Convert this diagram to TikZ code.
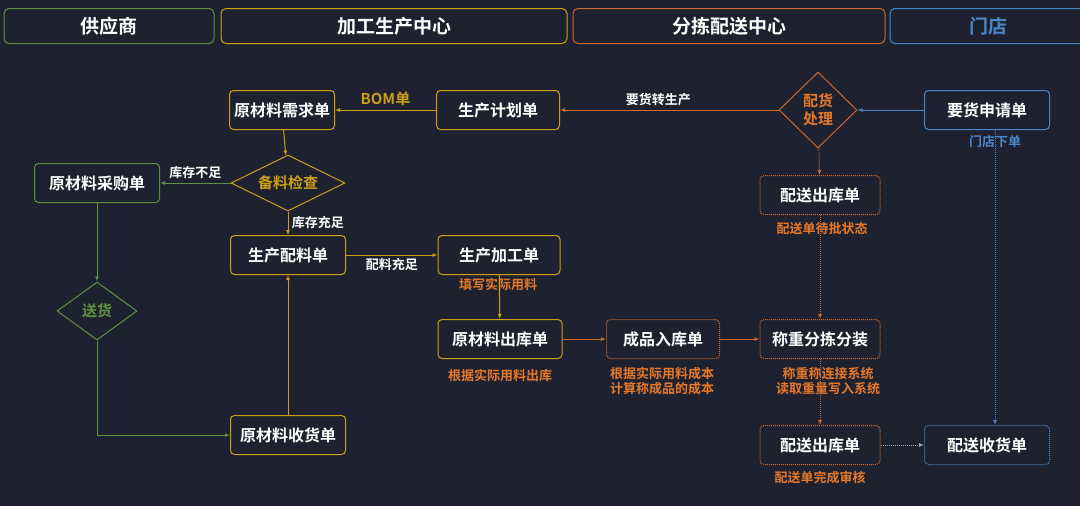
\documentclass[tikz,border=0pt]{standalone}
\usepackage{fontspec}
\setmainfont{Noto Sans CJK SC}[BoldFont={Noto Sans CJK SC Bold}]
\usetikzlibrary{positioning,shapes.geometric,arrows.meta}
\definecolor{bg}{RGB}{30,34,48}
\definecolor{sup}{RGB}{96,146,62}
\definecolor{fac}{RGB}{205,160,20}
\definecolor{dis}{RGB}{205,105,45}
\definecolor{sto}{RGB}{74,134,200}
\definecolor{lbl}{RGB}{232,120,40}
\tikzset{box/.style={draw,rounded corners=4pt,text=white,font=\bfseries\fontsize{16}{18}\selectfont,minimum height=39pt,line width=1pt}}
\tikzset{head/.style={draw,rounded corners=5pt,minimum height=35pt,font=\bfseries\fontsize{19}{21}\selectfont,line width=1pt,text=white}}
\tikzset{check/.style={draw,diamond,aspect=2,inner sep=1pt,font=\bfseries\fontsize{15}{18}\selectfont,line width=1pt}}
\tikzset{dotbox/.style={box,dash pattern=on 1pt off 1pt}}
\tikzset{note/.style={font=\bfseries\fontsize{13}{15}\selectfont,text=lbl,align=center}}
\tikzset{tag/.style={font=\bfseries\fontsize{13}{15}\selectfont,text=white}}
\tikzset{flow/.style={line width=1pt,-{Latex[length=5pt,width=4pt]}}}
\begin{document}
\begin{tikzpicture}[x=1pt,y=-1pt]
        \fill[bg] (0,0) rectangle (1080,506);
        \useasboundingbox (0,0) rectangle (1080,506);
        % lanes
        \node[head,draw=sup,minimum width=210pt] (hsup) at (109,26) {供应商};
        \node[head,draw=fac,minimum width=346pt] (hfac) at (394,26) {加工生产中心};
        \node[head,draw=dis,minimum width=312pt] (hdis) at (729,26) {分拣配送中心};
        \node[head,draw=sto,minimum width=196pt,text=sto] (hsto) at (988,26) {门店};
        % nodes
        \node[box,draw=fac,minimum width=105pt] (need) at (282,110) {原材料需求单};
        \node[box,draw=fac,minimum width=123pt] (plan) at (498,110) {生产计划单};
        \node[check,draw=dis,text=lbl,align=center,minimum width=78pt,minimum height=76pt,aspect=1.25] (alloc) at (818,110) {配货\\处理};
        \node[box,draw=sto,minimum width=125pt] (req) at (987,110) {要货申请单};
        \node[check,draw=fac,text=fac,minimum width=114pt,minimum height=56pt] (chk) at (288,183) {备料检查};
        \node[box,draw=sup,minimum width=125pt] (buy) at (97,183) {原材料采购单};
        \node[box,draw=fac,minimum width=115pt] (mix) at (288,255) {生产配料单};
        \node[box,draw=fac,minimum width=122pt] (work) at (499,255) {生产加工单};
        \node[check,draw=sup,text=sup,minimum width=80pt,minimum height=58pt] (ship) at (97,311) {送货};
        \node[box,draw=fac,minimum width=124pt] (out) at (500,339) {原材料出库单};
        \node[dotbox,draw=dis,minimum width=113pt] (prod) at (663,339) {成品入库单};
        \node[dotbox,draw=dis,minimum width=120pt] (weigh) at (820,339) {称重分拣分装};
        \node[box,draw=fac,minimum width=115pt] (recv) at (288,435) {原材料收货单};
        \node[dotbox,draw=dis,minimum width=120pt] (dout1) at (820,195) {配送出库单};
        \node[dotbox,draw=dis,minimum width=120pt] (dout2) at (820,445) {配送出库单};
        \node[dotbox,draw=sto,minimum width=125pt] (drecv) at (987,445) {配送收货单};
        % notes
        \node[note,text=sto] at (995,142) {门店下单};
        \node[note] at (498,285) {填写实际用料};
        \node[note] at (500,376) {根据实际用料出库};
        \node[note] at (662,381) {根据实际用料成本\\计算称成品的成本};
        \node[note] at (828,381) {称重称连接系统\\读取重量写入系统};
        \node[note] at (822,229) {配送单待批状态};
        \node[note] at (820,478) {配送单完成审核};
        % edges
        \draw[flow,fac] (plan) -- node[above,font=\bfseries\fontsize{15}{17}\selectfont,text=fac] {BOM单} (need);
        \draw[flow,dis] (alloc) -- node[tag,above,pos=0.55] {要货转生产} (plan);
        \draw[flow,sto] (req) -- (alloc);
        \draw[flow,fac] (need) -- (chk);
        \draw[flow,sup] (chk) -- node[tag,above] {库存不足} (buy);
        \draw[flow,fac] (chk) -- node[tag,right,pos=0.45] {库存充足} (mix);
        \draw[flow,fac] (mix) -- node[tag,below] {配料充足} (work);
        \draw[flow,fac] (work) -- (out);
        \draw[flow,dis] (out) -- (prod);
        \draw[flow,dis] (prod) -- (weigh);
        \draw[flow,dis,dash pattern=on 1pt off 1pt] (alloc) -- (dout1);
        \draw[flow,dis,dash pattern=on 1pt off 1pt] (dout1) -- (weigh);
        \draw[flow,dis,dash pattern=on 1pt off 1pt] (weigh) -- (dout2);
        \draw[flow,gray!70,dash pattern=on 1pt off 1pt] (dout2) -- (drecv);
        \draw[flow,sto,dash pattern=on 1pt off 1pt] ([xshift=8pt]req.south) -- ([xshift=8pt]drecv.north);
        \draw[flow,sup] (buy) -- (ship);
        \draw[flow,sup] (ship) |- (recv);
        \draw[flow,fac] (recv) -- (mix);
    \end{tikzpicture}
\end{document}
